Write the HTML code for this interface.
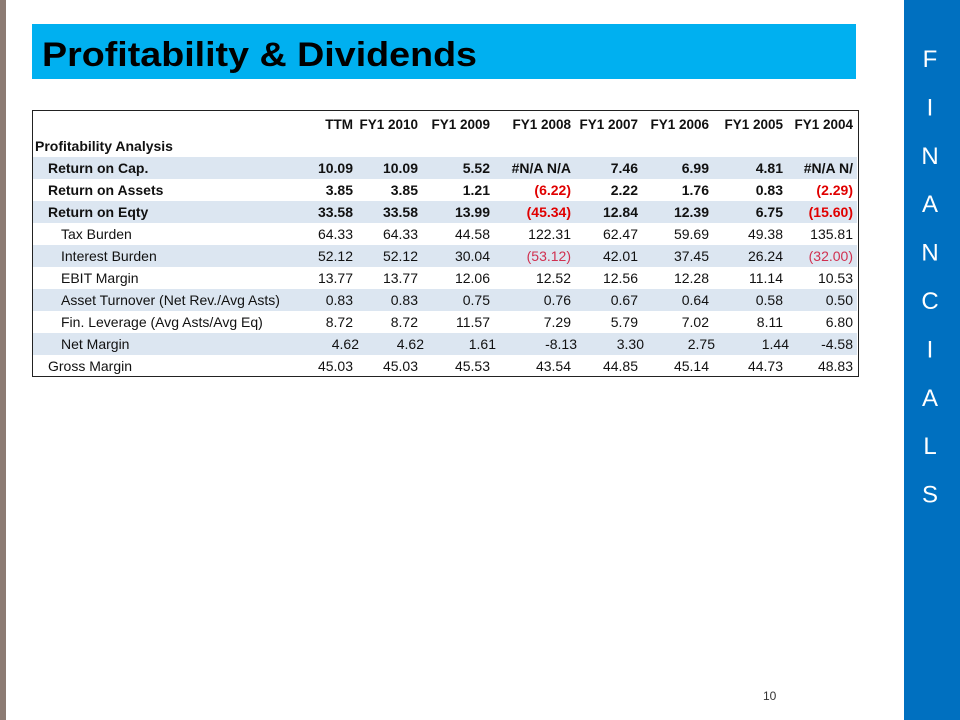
<!DOCTYPE html>
<html><head><meta charset="utf-8"><style>
body{margin:0;width:960px;height:720px;overflow:hidden;background:#fff;font-family:"Liberation Sans",sans-serif;position:relative}
.a{position:absolute}
</style></head><body>
<div class="a" style="left:0;top:0;width:6px;height:720px;background:#8c7b73"></div>
<div class="a" style="left:904px;top:0;width:56px;height:720px;background:#0070c0"></div>
<div class="a" style="left:32px;top:24px;width:824px;height:55px;background:#00b0f0"></div>
<svg class="a" style="left:0;top:0" width="960" height="720">
<text x="42" y="66" font-family="Liberation Sans, sans-serif" font-weight="bold" font-size="34" textLength="435" lengthAdjust="spacingAndGlyphs" fill="#000">Profitability &amp; Dividends</text>
<g id="side" font-family="Liberation Sans, sans-serif" font-size="24" fill="#fff" text-anchor="middle"></g>
<rect x="32.5" y="110.5" width="826" height="266" fill="none" stroke="#222" stroke-width="1"/>
<g id="tbl" font-family="Liberation Sans, sans-serif" font-size="14"></g>
<text x="763" y="700" font-size="12" fill="#333">10</text>
</svg>
<script>
const NS='http://www.w3.org/2000/svg';
const letters=['F','I','N','A','N','C','I','A','L','S'];
const side=document.getElementById('side');
letters.forEach((l,i)=>{const t=document.createElementNS(NS,'text');
t.setAttribute('x',930);t.setAttribute('y',67+i*48.4);t.textContent=l;


side.appendChild(t);});
const headers=['TTM','FY1 2010','FY1 2009','FY1 2008','FY1 2007','FY1 2006','FY1 2005','FY1 2004'];
const colRight=[353,418,490,571,638,709,783,853];
const rows=[
['Return on Cap.',1,1,['10.09','10.09','5.52','#N/A N/A','7.46','6.99','4.81','#N/A N/']],
['Return on Assets',1,0,['3.85','3.85','1.21','(6.22)','2.22','1.76','0.83','(2.29)']],
['Return on Eqty',1,1,['33.58','33.58','13.99','(45.34)','12.84','12.39','6.75','(15.60)']],
['Tax Burden',2,0,['64.33','64.33','44.58','122.31','62.47','59.69','49.38','135.81']],
['Interest Burden',2,1,['52.12','52.12','30.04','(53.12)','42.01','37.45','26.24','(32.00)']],
['EBIT Margin',2,0,['13.77','13.77','12.06','12.52','12.56','12.28','11.14','10.53']],
['Asset Turnover (Net Rev./Avg Asts)',2,1,['0.83','0.83','0.75','0.76','0.67','0.64','0.58','0.50']],
['Fin. Leverage (Avg Asts/Avg Eq)',2,0,['8.72','8.72','11.57','7.29','5.79','7.02','8.11','6.80']],
['Net Margin',2,1,['4.62','4.62','1.61','-8.13','3.30','2.75','1.44','-4.58']],
['Gross Margin',3,0,['45.03','45.03','45.53','43.54','44.85','45.14','44.73','48.83']]];
const g=document.getElementById('tbl');
function txt(x,y,s,o){const t=document.createElementNS(NS,'text');t.setAttribute('x',x);t.setAttribute('y',y);t.textContent=s;
for(const k in o)t.setAttribute(k,o[k]);g.appendChild(t);return t;}
headers.forEach((h,i)=>{const t=txt(colRight[i],129,h,{'text-anchor':'end','font-weight':'bold','font-size':'13.5','fill':'#111'});

});
const pa=txt(35,151,'Profitability Analysis',{'font-weight':'bold','fill':'#111'});


rows.forEach((r,i)=>{const yTop=157+i*22, y=yTop+16;
if(r[2]){const b=document.createElementNS(NS,'rect');b.setAttribute('x',33);b.setAttribute('y',yTop);b.setAttribute('width',824);b.setAttribute('height',22);b.setAttribute('fill','#dce6f1');


g.appendChild(b);}
const bold=r[1]===1;
const lx=r[1]===1?48:(r[1]===2?61:48);
const l=txt(lx,y,r[0],{'font-weight':bold?'bold':'normal','fill':'#111'});


r[3].forEach((v,j)=>{const neg=v.startsWith('(');
const off=(r[0]==='Net Margin'&&j<7)?6:0;
const c=txt(colRight[j]+off,y,v,{'text-anchor':'end','font-weight':bold?'bold':'normal','fill':neg?(bold?'#e00000':'#d03050'):'#111'});

});});
</script>
</body></html>
